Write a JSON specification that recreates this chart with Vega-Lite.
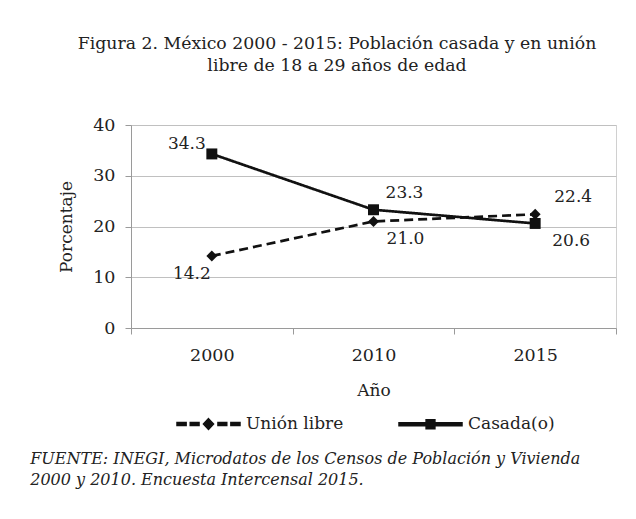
{
  "$schema": "https://vega.github.io/schema/vega-lite/v6.json",
  "background": "white",
  "padding": {"left": 30, "top": 34, "right": 10, "bottom": 10},
  "config": {
    "font": "DejaVu Serif",
    "view": {"stroke": "#d0d0d0", "strokeWidth": 1},
    "text": {"font": "DejaVu Serif"},
    "axis": {
      "labelFont": "DejaVu Serif",
      "titleFont": "DejaVu Serif",
      "labelFontSize": 17.5,
      "titleFontSize": 17,
      "titleFontWeight": "normal",
      "labelColor": "#222222",
      "titleColor": "#222222",
      "domainColor": "#9a9a9a",
      "tickColor": "#9a9a9a",
      "gridColor": "#c0c0c0",
      "tickSize": 6
    },
    "legend": {"labelFont": "DejaVu Serif"}
  },
  "title": {
    "text": ["FUENTE: INEGI, Microdatos de los Censos de Población y Vivienda", "2000 y 2010. Encuesta Intercensal 2015."],
    "orient": "bottom",
    "anchor": "start",
    "fontStyle": "italic",
    "fontWeight": "normal",
    "fontSize": 16,
    "lineHeight": 21,
    "color": "#222222",
    "offset": 18,
    "dx": -27,
    "font": "DejaVu Serif"
  },
  "vconcat": [
    {
      "width": 485,
      "height": 203,
      "title": {
        "text": ["Figura 2. México 2000 - 2015: Población casada y en unión", "libre de 18 a 29 años de edad"],
        "anchor": "middle",
        "font": "DejaVu Serif",
        "fontSize": 17.3,
        "fontWeight": "normal",
        "lineHeight": 22,
        "color": "#222222",
        "offset": 42,
        "dx": -36.5
      },
      "data": {
        "values": [
          {"year": "2000", "serie": "Unión libre", "pct": 14.2},
          {"year": "2010", "serie": "Unión libre", "pct": 21.0},
          {"year": "2015", "serie": "Unión libre", "pct": 22.4},
          {"year": "2000", "serie": "Casada(o)", "pct": 34.3},
          {"year": "2010", "serie": "Casada(o)", "pct": 23.3},
          {"year": "2015", "serie": "Casada(o)", "pct": 20.6}
        ]
      },
      "encoding": {
        "x": {
          "field": "year",
          "type": "ordinal",
          "scale": {"type": "band", "paddingInner": 0, "paddingOuter": 0},
          "axis": {"title": "Año", "labelAngle": 0, "tickBand": "extent", "labelPadding": 12, "titlePadding": 19, "grid": false}
        },
        "y": {
          "field": "pct",
          "type": "quantitative",
          "scale": {"domain": [0, 40]},
          "axis": {"title": "Porcentaje", "values": [0, 10, 20, 30, 40], "labelPadding": 10, "titlePadding": 17, "grid": true}
        }
      },
      "layer": [
        {
          "mark": {"type": "line", "color": "#111111", "strokeWidth": 2.7},
          "encoding": {
            "detail": {"field": "serie"},
            "strokeDash": {
              "field": "serie",
              "type": "nominal",
              "scale": {"domain": ["Unión libre", "Casada(o)"], "range": [[9, 5], [1, 0]]},
              "legend": null
            }
          }
        },
        {
          "mark": {"type": "point", "filled": true, "color": "#111111", "opacity": 1, "size": 120},
          "encoding": {
            "shape": {
              "field": "serie",
              "type": "nominal",
              "scale": {"domain": ["Unión libre", "Casada(o)"], "range": ["diamond", "square"]},
              "legend": null
            }
          }
        },
        {
          "transform": [{"filter": "datum.year == '2000' && datum.serie == 'Casada(o)'"}],
          "mark": {"type": "text", "font": "DejaVu Serif", "fontSize": 17, "color": "#222222", "align": "right", "baseline": "middle", "dx": -6, "dy": -10},
          "encoding": {"text": {"field": "pct", "type": "quantitative", "format": ".1f"}}
        },
        {
          "transform": [{"filter": "datum.year == '2000' && datum.serie == 'Unión libre'"}],
          "mark": {"type": "text", "font": "DejaVu Serif", "fontSize": 17, "color": "#222222", "align": "center", "baseline": "middle", "dx": -20, "dy": 18},
          "encoding": {"text": {"field": "pct", "type": "quantitative", "format": ".1f"}}
        },
        {
          "transform": [{"filter": "datum.year == '2010' && datum.serie == 'Casada(o)'"}],
          "mark": {"type": "text", "font": "DejaVu Serif", "fontSize": 17, "color": "#222222", "align": "center", "baseline": "middle", "dx": 31, "dy": -17},
          "encoding": {"text": {"field": "pct", "type": "quantitative", "format": ".1f"}}
        },
        {
          "transform": [{"filter": "datum.year == '2015' && datum.serie == 'Unión libre'"}],
          "mark": {"type": "text", "font": "DejaVu Serif", "fontSize": 17, "color": "#222222", "align": "center", "baseline": "middle", "dx": 38, "dy": -17},
          "encoding": {"text": {"field": "pct", "type": "quantitative", "format": ".1f"}}
        },
        {
          "transform": [{"filter": "datum.year == '2010' && datum.serie == 'Unión libre'"}],
          "mark": {"type": "text", "font": "DejaVu Serif", "fontSize": 17, "color": "#222222", "align": "center", "baseline": "middle", "dx": 32, "dy": 18},
          "encoding": {"text": {"field": "pct", "type": "quantitative", "format": ".1f"}}
        },
        {
          "transform": [{"filter": "datum.year == '2015' && datum.serie == 'Casada(o)'"}],
          "mark": {"type": "text", "font": "DejaVu Serif", "fontSize": 17, "color": "#222222", "align": "center", "baseline": "middle", "dx": 36, "dy": 18},
          "encoding": {"text": {"field": "pct", "type": "quantitative", "format": ".1f"}}
        },
        {
          "transform": [{"filter": "false"}],
          "mark": {"type": "point", "fill": "#111111", "stroke": "#111111", "strokeWidth": 0, "opacity": 1},
          "encoding": {
            "shape": {
              "field": "serie",
              "type": "nominal",
              "scale": {
                "domain": ["Unión libre", "Casada(o)"],
                "range": [
                  "M-1,-0.048H-0.71V0.048H-1ZM-0.58,-0.048H-0.3V0.048H-0.58ZM0,-0.17L0.16,0L0,0.17L-0.16,0ZM0.3,-0.048H0.58V0.048H0.3ZM0.71,-0.048H1V0.048H0.71Z",
                  "M-1,-0.048H1V0.048H-1ZM-0.14,-0.14H0.14V0.14H-0.14Z"
                ]
              },
              "legend": {
                "title": null,
                "orient": "none",
                "direction": "horizontal",
                "legendX": 45,
                "legendY": 266.5,
                "symbolSize": 3969,
                "symbolFillColor": "#111111",
                "symbolOpacity": 1,
                "labelFontSize": 17,
                "labelFont": "DejaVu Serif",
                "labelColor": "#222222",
                "labelOffset": 5,
                "columnPadding": 52
              }
            }
          }
        }
      ],
      "resolve": {"scale": {"shape": "independent"}, "legend": {"shape": "independent"}}
    }
  ]
}
